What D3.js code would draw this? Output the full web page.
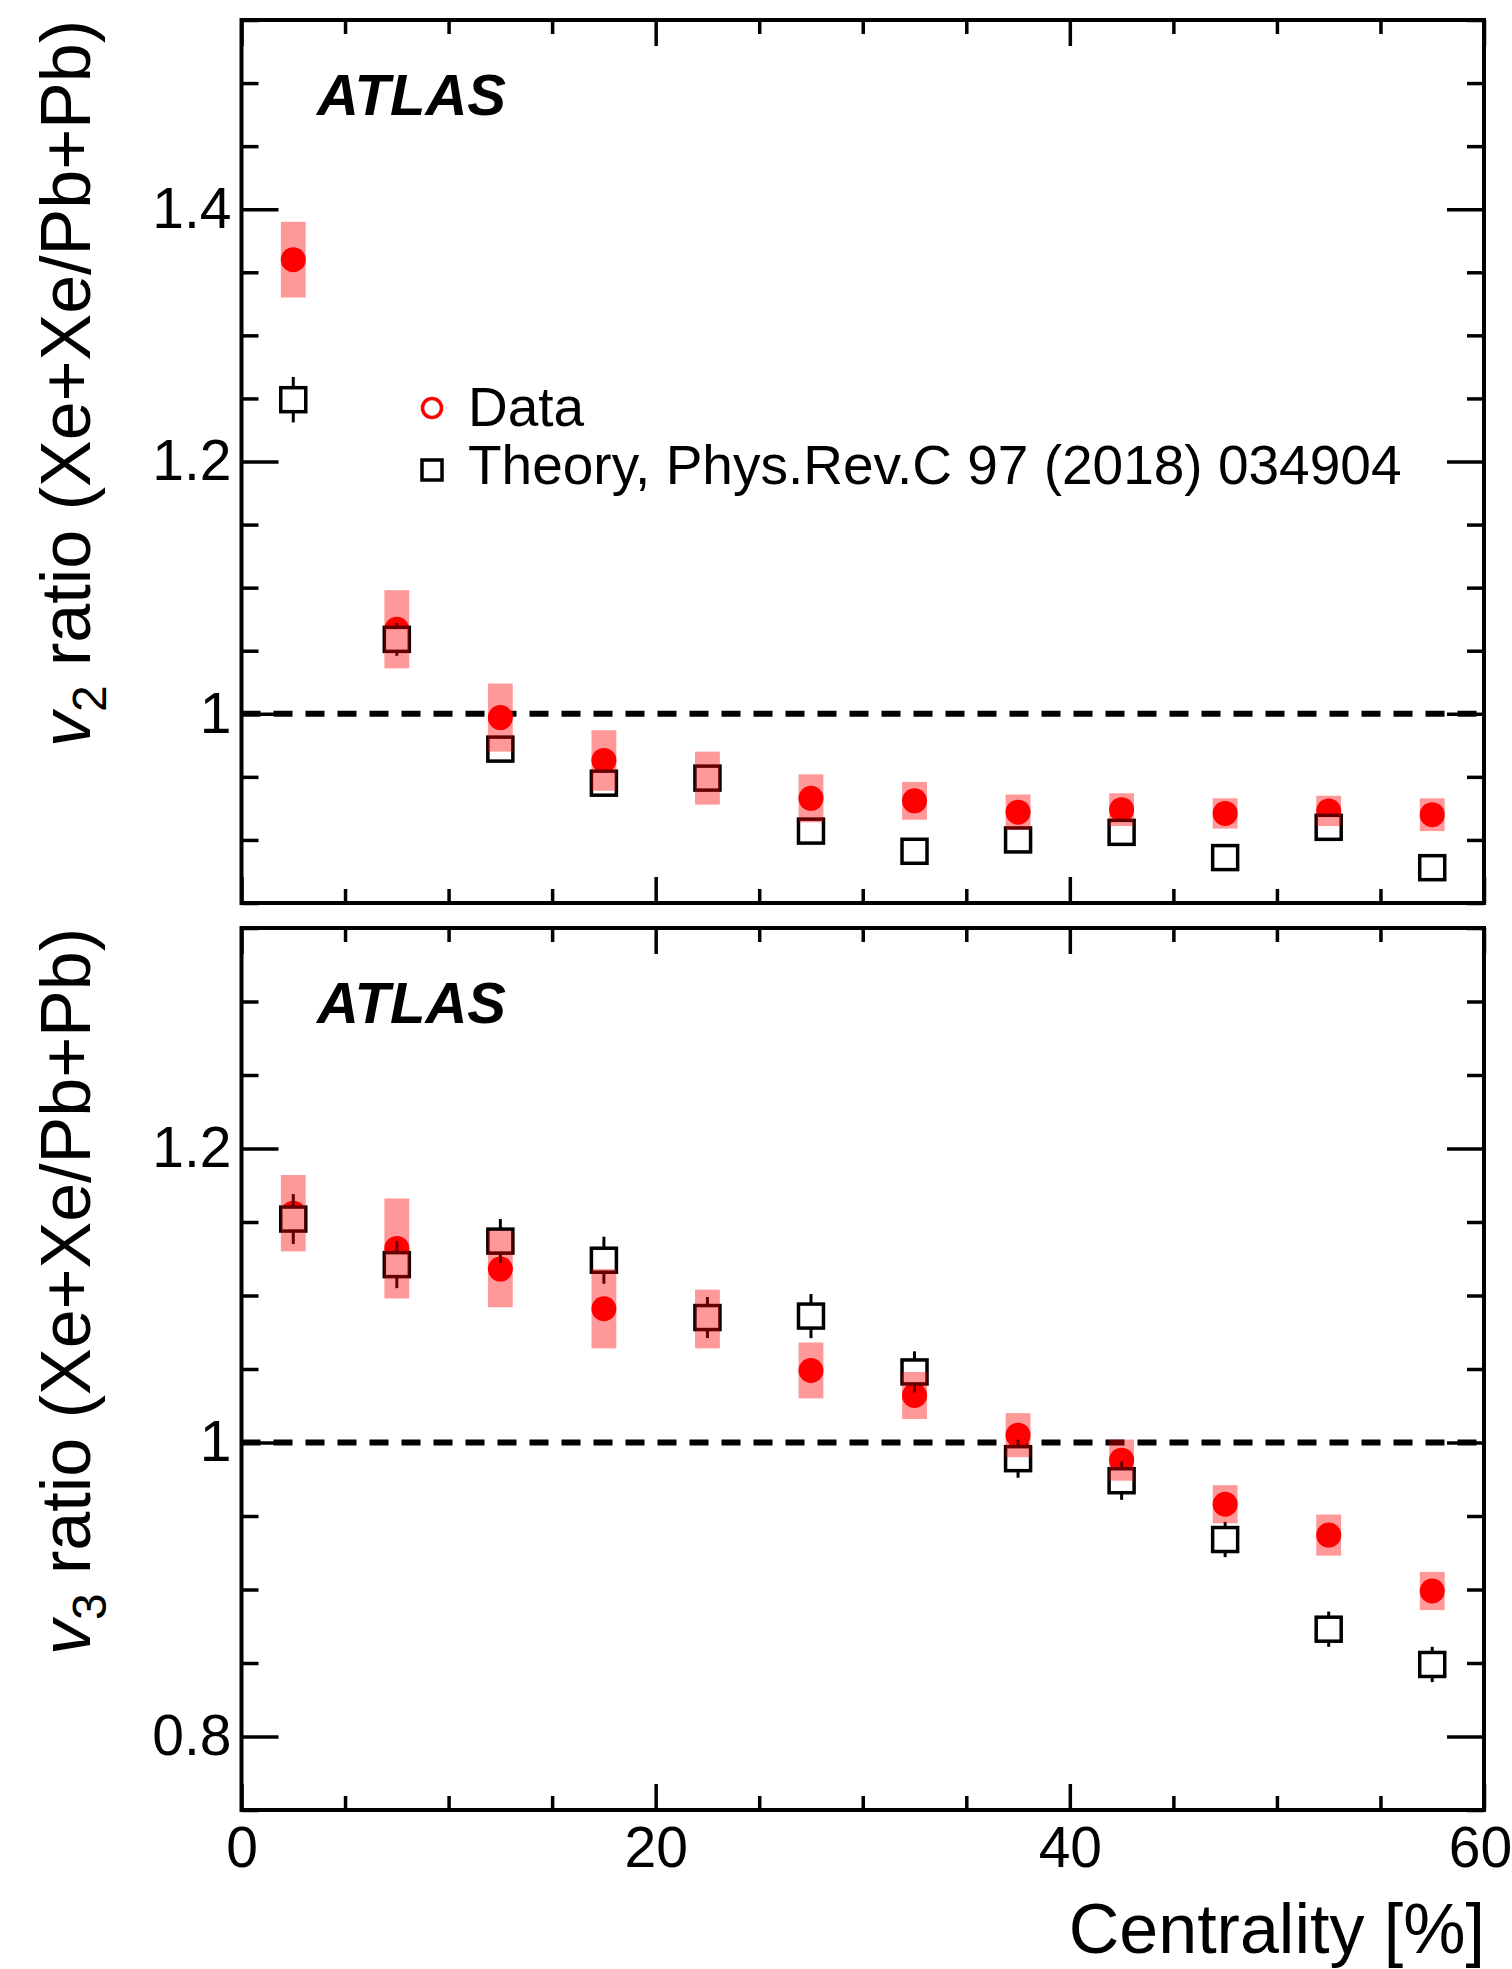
<!DOCTYPE html>
<html>
<head>
<meta charset="utf-8">
<script src="https://cdn.jsdelivr.net/npm/d3@7"></script>
<style>
  body { margin: 0; background: #fff; }
  svg text { font-family: "Liberation Sans", Arial, Helvetica, sans-serif; fill: #000; }
</style>
</head>
<body>
<main></main>
<script>
// centrality bin centres [%]
const centrality = [2.5, 7.5, 12.5, 17.5, 22.5, 27.5, 32.5, 37.5, 42.5, 47.5, 52.5, 57.5];

// v2 ratio Xe+Xe / Pb+Pb
const v2Data = [1.360, 1.067, 0.997, 0.963, 0.949, 0.933, 0.931, 0.922, 0.924, 0.921, 0.923, 0.920];
const v2DataSys = [0.030, 0.031, 0.027, 0.024, 0.021, 0.019, 0.015, 0.014, 0.013, 0.012, 0.012, 0.013];
const v2Theory = [1.249, 1.059, 0.972, 0.945, 0.949, 0.907, 0.891, 0.900, 0.906, 0.886, 0.910, 0.878];
const v2TheoryErr = [0.018, 0.013, 0.008, 0.008, 0.008, 0.006, 0.006, 0.006, 0.006, 0.006, 0.006, 0.006];

// v3 ratio Xe+Xe / Pb+Pb
const v3Data = [1.156, 1.132, 1.118, 1.091, 1.084, 1.049, 1.032, 1.005, 0.988, 0.958, 0.937, 0.899];
const v3DataSys = [0.026, 0.034, 0.026, 0.027, 0.020, 0.019, 0.016, 0.015, 0.014, 0.013, 0.014, 0.013];
const v3Theory = [1.152, 1.121, 1.137, 1.124, 1.085, 1.086, 1.048, 0.989, 0.974, 0.934, 0.873, 0.849];
const v3TheoryErr = [0.017, 0.016, 0.015, 0.016, 0.014, 0.015, 0.014, 0.013, 0.013, 0.012, 0.012, 0.012];

// axis ticks
const xMajor = [0, 20, 40, 60];
const xMinor = [5, 10, 15, 25, 30, 35, 45, 50, 55];
const v2Major = [1.0, 1.2, 1.4];
const v3Major = [0.8, 1.0, 1.2];

const legendLabels = ["Data", "Theory, Phys.Rev.C 97 (2018) 034904"];

/*------------Size---------------*/
const W = 1512, H = 1969;
const frameL = 241.5, frameR = 1484;
const panels = [
  { top: 20, bottom: 903, dom: [0.85, 1.55], major: v2Major, n: "2",
    data: v2Data, sys: v2DataSys, th: v2Theory, thErr: v2TheoryErr, labels: false, legend: true },
  { top: 928, bottom: 1810, dom: [0.75, 1.35], major: v3Major, n: "3",
    data: v3Data, sys: v3DataSys, th: v3Theory, thErr: v3TheoryErr, labels: true, legend: false }
];
const tick = { yMaj: 37, yMin: 17, xMaj: 26, xMin: 14, w: 3.5 };

const svg = d3.select("main").append("svg")
  .attr("width", W).attr("height", H)
  .style("display", "block");
svg.append("rect").attr("width", W).attr("height", H).attr("fill", "#fff");

const x = d3.scaleLinear().domain([0, 60]).range([frameL, frameR]);

const minorOf = (dom, major) => {
  const out = [];
  for (let v = Math.ceil(dom[0] / 0.05) * 0.05; v <= dom[1] + 1e-9; v += 0.05) {
    const r = Math.round(v * 100) / 100;
    if (!major.some((m) => Math.abs(m - r) < 1e-6)) out.push(r);
  }
  return out;
};

const fmt = (d) => (d === 1 ? "1" : d3.format("")(d));

const styleAxis = (g) => {
  g.select(".domain").remove();
  g.selectAll("line").attr("stroke", "#000").attr("stroke-width", tick.w);
};

function drawPanel(p) {
  const y = d3.scaleLinear().domain(p.dom).range([p.bottom, p.top]);
  const g = svg.append("g");

  // y=1 reference line
  g.append("line")
    .attr("x1", x(0)).attr("x2", x(60))
    .attr("y1", y(1)).attr("y2", y(1))
    .attr("stroke", "#000").attr("stroke-width", 6)
    .attr("stroke-dasharray", "19,13");

  // data points (red)
  g.selectAll("circle.data").data(centrality).enter().append("circle")
    .attr("class", "data")
    .attr("cx", (d) => x(d))
    .attr("cy", (d, i) => y(p.data[i]))
    .attr("r", 12.5)
    .attr("fill", "#ff0000");

  // theory error bars
  g.selectAll("line.therr").data(centrality).enter().append("line")
    .attr("class", "therr")
    .attr("x1", (d) => x(d)).attr("x2", (d) => x(d))
    .attr("y1", (d, i) => y(p.th[i] + p.thErr[i]))
    .attr("y2", (d, i) => y(p.th[i] - p.thErr[i]))
    .attr("stroke", "#000").attr("stroke-width", 3);

  // theory squares
  g.selectAll("rect.th").data(centrality).enter().append("rect")
    .attr("class", "th")
    .attr("x", (d) => x(d) - 12.5)
    .attr("y", (d, i) => y(p.th[i]) - 12)
    .attr("width", 25).attr("height", 24)
    .attr("fill", "#fff")
    .attr("stroke", "#000").attr("stroke-width", 3.5);

  // systematic bands on top
  g.selectAll("rect.sys").data(centrality).enter().append("rect")
    .attr("class", "sys")
    .attr("x", (d) => x(d - 0.6))
    .attr("width", (d) => x(d + 0.6) - x(d - 0.6))
    .attr("y", (d, i) => y(p.data[i] + p.sys[i]))
    .attr("height", (d, i) => y(p.data[i] - p.sys[i]) - y(p.data[i] + p.sys[i]))
    .attr("fill", "rgba(255,0,0,0.4)");

  // axes: ticks pointing inward
  const minor = minorOf(p.dom, p.major);
  g.append("g").attr("transform", `translate(${frameL},0)`)
    .call(d3.axisLeft(y).tickValues(p.major).tickSize(-tick.yMaj).tickPadding(10).tickFormat(fmt))
    .call(styleAxis)
    .call((a) => a.selectAll("text").attr("font-size", 57).attr("fill", "#000")
      .style("font-family", "'Liberation Sans', Arial, sans-serif"));
  g.append("g").attr("transform", `translate(${frameL},0)`)
    .call(d3.axisLeft(y).tickValues(minor).tickSize(-tick.yMin).tickFormat(""))
    .call(styleAxis);
  g.append("g").attr("transform", `translate(${frameR},0)`)
    .call(d3.axisRight(y).tickValues(p.major).tickSize(-tick.yMaj).tickFormat(""))
    .call(styleAxis);
  g.append("g").attr("transform", `translate(${frameR},0)`)
    .call(d3.axisRight(y).tickValues(minor).tickSize(-tick.yMin).tickFormat(""))
    .call(styleAxis);

  const xb = g.append("g").attr("transform", `translate(0,${p.bottom})`)
    .call(d3.axisBottom(x).tickValues(xMajor).tickSize(-tick.xMaj).tickPadding(17)
      .tickFormat(p.labels ? d3.format("d") : ""))
    .call(styleAxis);
  xb.selectAll("text").attr("font-size", 57).attr("fill", "#000")
    .style("font-family", "'Liberation Sans', Arial, sans-serif")
    .attr("dx", (d) => (d === 60 ? -4 : 0));
  g.append("g").attr("transform", `translate(0,${p.bottom})`)
    .call(d3.axisBottom(x).tickValues(xMinor).tickSize(-tick.xMin).tickFormat(""))
    .call(styleAxis);
  g.append("g").attr("transform", `translate(0,${p.top})`)
    .call(d3.axisTop(x).tickValues(xMajor).tickSize(-tick.xMaj).tickFormat(""))
    .call(styleAxis);
  g.append("g").attr("transform", `translate(0,${p.top})`)
    .call(d3.axisTop(x).tickValues(xMinor).tickSize(-tick.xMin).tickFormat(""))
    .call(styleAxis);

  // frame
  g.append("rect")
    .attr("x", frameL).attr("y", p.top)
    .attr("width", frameR - frameL).attr("height", p.bottom - p.top)
    .attr("fill", "none").attr("stroke", "#000").attr("stroke-width", 4);

  // ATLAS label
  g.append("text")
    .attr("x", 317).attr("y", p.top + 95)
    .attr("font-size", 58).attr("font-weight", "bold").attr("font-style", "italic")
    .text("ATLAS");

  // y title
  const t = g.append("text")
    .attr("transform", `translate(90,${p.top}) rotate(-90)`)
    .attr("text-anchor", "end")
    .attr("font-size", 70);
  t.append("tspan").attr("font-style", "italic").text("v");
  t.append("tspan").attr("font-size", 48).attr("dy", 16).text(p.n);
  t.append("tspan").attr("dy", -16).text(" ratio (Xe+Xe/Pb+Pb)");

  if (p.legend) {
    const lg = g.append("g").attr("id", "legend");
    lg.append("circle").attr("cx", 432).attr("cy", 408).attr("r", 9.5)
      .attr("fill", "none").attr("stroke", "#ff0000").attr("stroke-width", 3.5);
    lg.append("rect").attr("x", 422).attr("y", 460).attr("width", 20).attr("height", 20)
      .attr("fill", "none").attr("stroke", "#000").attr("stroke-width", 3.5);
    lg.selectAll("text").data(legendLabels).enter().append("text")
      .attr("x", 468).attr("y", (d, i) => 426 + i * 58)
      .attr("font-size", 55)
      .text((d) => d);
  }
}

panels.forEach(drawPanel);

// x title
svg.append("text")
  .attr("x", 1485).attr("y", 1953)
  .attr("text-anchor", "end")
  .attr("font-size", 70)
  .text("Centrality [%]");
</script>
</body>
</html>
